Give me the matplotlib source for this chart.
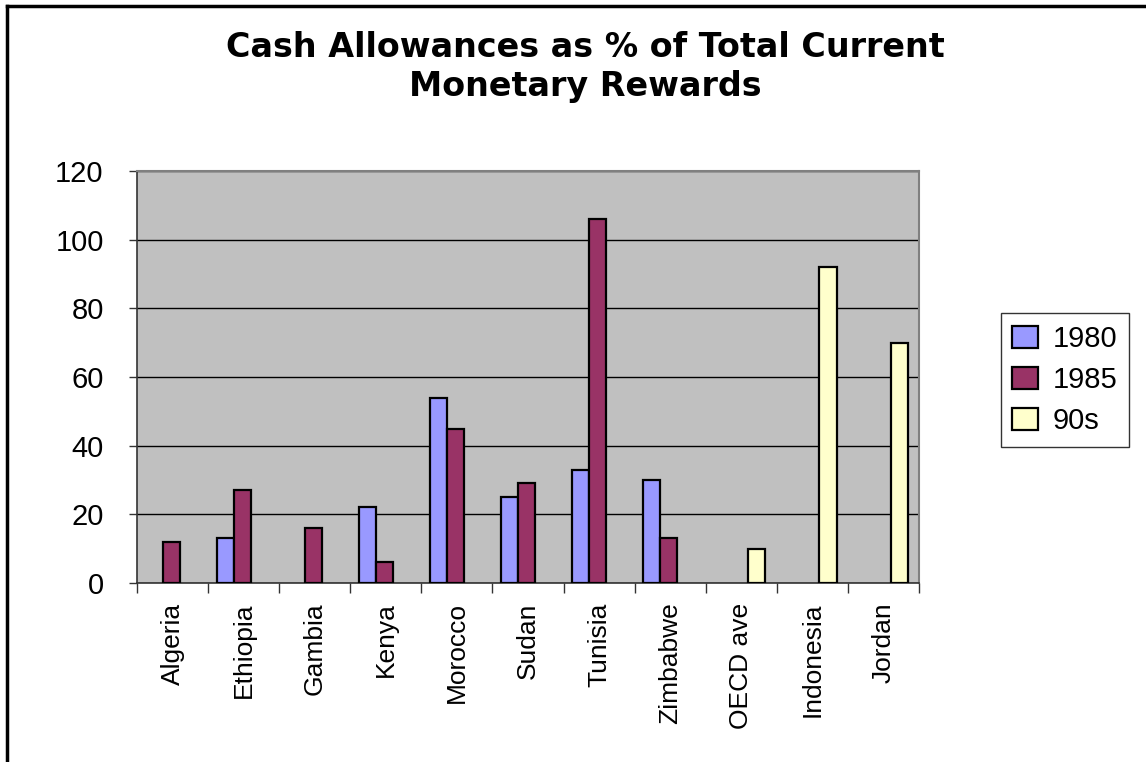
import matplotlib.pyplot as plt
import numpy as np
from matplotlib.lines import Line2D

countries = ["Algeria", "Ethiopia", "Gambia", "Kenya", "Morocco", "Sudan",
             "Tunisia", "Zimbabwe", "OECD ave", "Indonesia", "Jordan"]
series = ["1980", "1985", "90s"]
v1980 = [0, 13, 0, 22, 54, 25, 33, 30, 0, 0, 0]
v1985 = [12, 27, 16, 6, 45, 29, 106, 13, 0, 0, 0]
v90s = [0, 0, 0, 0, 0, 0, 0, 0, 10, 92, 70]
colors = ["#9999FF", "#993366", "#FFFFCC"]

fig = plt.figure(figsize=(11.46, 7.62), dpi=100)
ax = fig.add_axes([137/1146, 1 - 583/762, (919 - 137)/1146, (583 - 171)/762])
ax.set_facecolor("#C0C0C0")

x = np.arange(len(countries))
w = 0.24
for i, (vals, c, lab) in enumerate(zip([v1980, v1985, v90s], colors, series)):
    xs = x + (i - 1) * w - 0.02
    mask = np.array(vals) > 0
    ax.bar(xs[mask], np.array(vals)[mask], width=w, color=c, edgecolor="black",
           linewidth=1.6, label=lab, zorder=3)

ax.set_xlim(-0.5, len(countries) - 0.5)
ax.set_ylim(0, 120)
ax.set_yticks(range(0, 121, 20))
ax.yaxis.grid(True, color="black", linewidth=1.0, zorder=1)
ax.set_axisbelow(True)

ax.set_xticks(x)
ax.set_xticklabels(countries, rotation=90, fontsize=19, fontfamily="Liberation Sans")
ax.set_xticks(np.arange(-0.5, len(countries)), minor=True)
ax.tick_params(axis="x", which="major", length=0, pad=14)
ax.tick_params(axis="x", which="minor", length=7, width=1, color="#333333", direction="out")
ax.tick_params(axis="y", length=6, width=1, color="#333333", direction="out", pad=18,
               labelsize=21)
for t in ax.get_yticklabels():
    t.set_fontfamily("Liberation Sans")

for s in ["left", "bottom"]:
    ax.spines[s].set_color("#333333")
    ax.spines[s].set_linewidth(1.2)
for s in ["top", "right"]:
    ax.spines[s].set_color("#808080")
    ax.spines[s].set_linewidth(1.5)

fig.text(585/1146, 1 - 67/762, "Cash Allowances as % of Total Current\nMonetary Rewards",
         ha="center", va="center", fontsize=24, fontweight="bold",
         fontfamily="DejaVu Sans", linespacing=1.25)

leg = fig.legend(loc="center", bbox_to_anchor=(1065/1146, 1 - 380/762),
                 prop={"family": "Liberation Sans", "size": 21},
                 frameon=True, fancybox=False, edgecolor="black",
                 handlelength=0.9, handleheight=0.8, handletextpad=0.5,
                 labelspacing=0.45, borderpad=0.4)
leg.get_frame().set_linewidth(1.0)

# figure border (top and left)
fig.add_artist(Line2D([7/1146, 7/1146], [0, 1 - 6/762], color="black", linewidth=2.5,
                      transform=fig.transFigure))
fig.add_artist(Line2D([7/1146, 1], [1 - 6/762, 1 - 6/762], color="black", linewidth=2.5,
                      transform=fig.transFigure))

fig.savefig("out.png", dpi=100)
